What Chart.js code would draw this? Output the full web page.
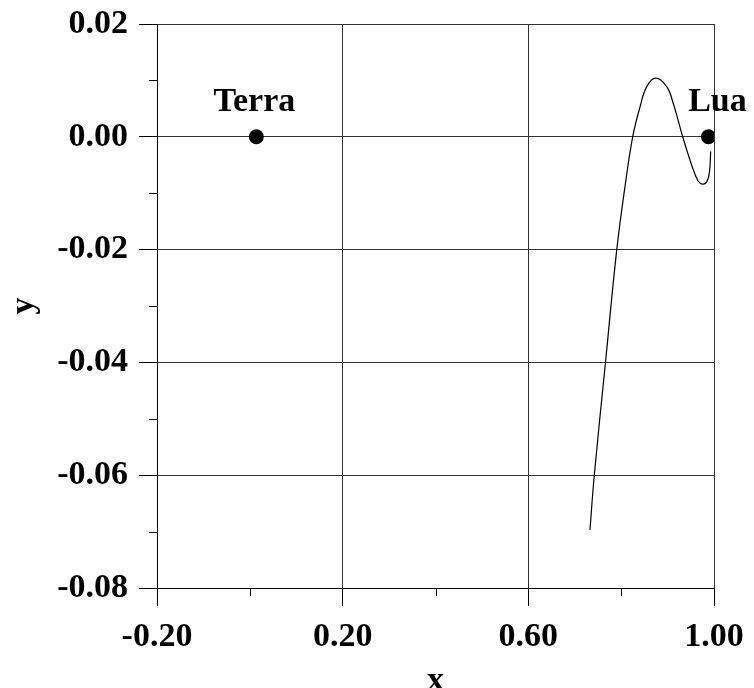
<!DOCTYPE html>
<html lang="pt">
<head>
  <meta charset="UTF-8">
  <title>Terra - Lua</title>
  <script src="https://cdn.jsdelivr.net/npm/chart.js"></script>
  <style>
    html, body { margin: 0; padding: 0; background: #fff; }
    #wrap { width: 754px; height: 688px; }
  </style>
</head>
<body>
  <div id="wrap"><canvas id="orbitChart" width="754" height="688"></canvas></div>

  <script>
    // trajectory (start near the bottom, end next to the Moon)
    const orbitX = [0.7328, 0.7421, 0.7662, 0.7904, 0.8083, 0.8248, 0.8406, 0.8550, 0.8744,
                    0.8981, 0.9123, 0.9326, 0.9519, 0.9655, 0.9752, 0.9843, 0.9903, 0.9929];
    const orbitY = [-0.0697, -0.0600, -0.0400, -0.0201, -0.0088, 0.0000, 0.0053, 0.0089, 0.0104,
                    0.0089, 0.0059, 0.0000, -0.0050, -0.0078, -0.0084, -0.0080, -0.0062, -0.0026];

    const bodyNames = ['Terra', 'Lua'];
    const bodyX = [0.014, 0.988];
    const bodyY = [0.0, 0.0];

    const xTicks = [-0.20, 0.20, 0.60, 1.00];
    const xMinorTicks = [0.00, 0.40, 0.80];
    const yTicks = [-0.08, -0.06, -0.04, -0.02, 0.00, 0.02];
    const yMinorTicks = [-0.07, -0.05, -0.03, -0.01, 0.01];

    const FONT = "'Liberation Serif', 'Times New Roman', serif";
    const FONT_SIZE = 34;

    // short ticks between the labelled ones + names over the bodies
    const extras = {
      id: 'extras',
      afterDraw(chart) {
        const { ctx, chartArea, scales } = chart;
        ctx.save();
        ctx.strokeStyle = '#000';
        ctx.lineWidth = 1;
        ctx.beginPath();
        xMinorTicks.forEach(v => {
          const px = Math.round(scales.x.getPixelForValue(v)) + 0.5;
          ctx.moveTo(px, chartArea.bottom);
          ctx.lineTo(px, chartArea.bottom + 8);
        });
        yMinorTicks.forEach(v => {
          const py = Math.round(scales.y.getPixelForValue(v)) + 0.5;
          ctx.moveTo(chartArea.left - 8, py);
          ctx.lineTo(chartArea.left, py);
        });
        ctx.stroke();

        ctx.fillStyle = '#000';
        ctx.font = 'bold ' + FONT_SIZE + 'px ' + FONT;
        ctx.textBaseline = 'alphabetic';
        ctx.textAlign = 'center';
        bodyNames.forEach((name, i) => {
          const px = scales.x.getPixelForValue(bodyX[i]);
          const py = scales.y.getPixelForValue(bodyY[i]);
          const shift = i === 1 ? 9 : -2; // Lua sits a bit right of its dot
          ctx.fillText(name, px + shift, py - 26);
        });
        ctx.restore();
      }
    };

    new Chart(document.getElementById('orbitChart'), {
      type: 'scatter',
      data: {
        datasets: [
          {
            label: 'trajetoria',
            data: orbitX.map((x, i) => ({ x: x, y: orbitY[i] })),
            showLine: true,
            borderColor: '#000',
            borderWidth: 1.2,
            pointRadius: 0,
            tension: 0.4,
            fill: false
          },
          {
            label: 'corpos',
            data: bodyX.map((x, i) => ({ x: x, y: bodyY[i] })),
            pointRadius: 7.5,
            pointBackgroundColor: '#000',
            pointBorderColor: '#000',
            borderWidth: 0
          }
        ]
      },
      options: {
        responsive: false,
        animation: false,
        layout: { padding: { top: 24, right: 40, left: 0, bottom: 0 } },
        plugins: {
          legend: { display: false },
          tooltip: { enabled: false }
        },
        scales: {
          x: {
            type: 'linear',
            min: -0.2,
            max: 1.0,
            afterBuildTicks: scale => { scale.ticks = xTicks.map(v => ({ value: v })); },
            afterFit: scale => {
              scale.height = 100;
              scale.paddingLeft = 0;
              scale.paddingRight = 0;
            },
            grid: { color: '#333', tickColor: '#000', tickLength: 18, lineWidth: 1 },
            border: { color: '#000', width: 1 },
            ticks: {
              color: '#000',
              padding: 11,
              maxRotation: 0,
              font: { family: FONT, size: FONT_SIZE, weight: 'bold' },
              callback: v => v.toFixed(2)
            },
            title: {
              display: true,
              text: 'x',
              color: '#000',
              padding: { top: 0, bottom: -14 },
              font: { family: FONT, size: FONT_SIZE, weight: 'bold' }
            }
          },
          y: {
            type: 'linear',
            min: -0.08,
            max: 0.02,
            afterBuildTicks: scale => { scale.ticks = yTicks.map(v => ({ value: v })); },
            afterFit: scale => {
              scale.width = 157;
              scale.paddingTop = 0;
              scale.paddingBottom = 0;
            },
            grid: { color: '#333', tickColor: '#000', tickLength: 18, lineWidth: 1 },
            border: { color: '#000', width: 1 },
            ticks: {
              color: '#000',
              padding: 11,
              font: { family: FONT, size: FONT_SIZE, weight: 'bold' },
              callback: v => v.toFixed(2)
            },
            title: {
              display: true,
              text: 'y',
              color: '#000',
              padding: { top: 4, bottom: 0 },
              font: { family: FONT, size: FONT_SIZE, weight: 'bold' }
            }
          }
        }
      },
      plugins: [extras]
    });
  </script>
</body>
</html>
